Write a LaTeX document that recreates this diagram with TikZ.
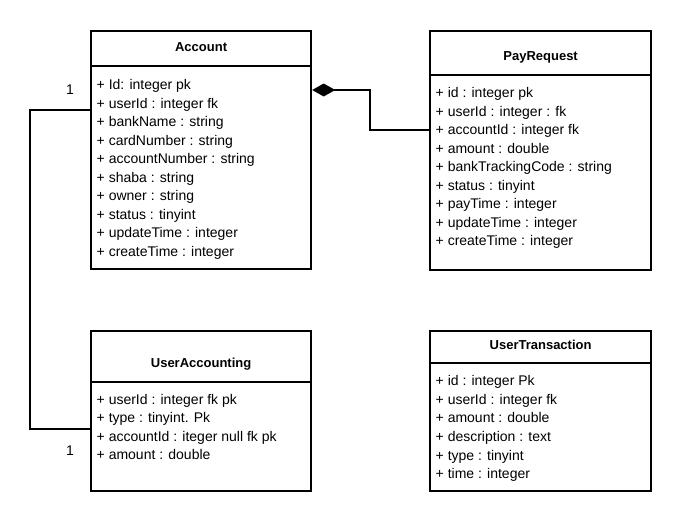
\documentclass[tikz,border=0pt]{standalone}
\usepackage{fontspec}
\setmainfont{Liberation Sans}
\usetikzlibrary{arrows.meta,calc}
\tikzset {>=Stealth,
  classbox/.style={draw,line width=2.2pt,anchor=north west,inner sep=0pt},
  ctitle/.style={font=\fontsize{13}{15}\selectfont\bfseries,anchor=base,inner sep=0pt},
  attr/.style={font=\fontsize{14}{17}\selectfont,anchor=base west,inner sep=0pt},
  mult/.style={font=\fontsize{14}{17}\selectfont,anchor=base,inner sep=0pt},
  link/.style={line width=2pt}}

\begin{document}
\begin{tikzpicture}[x=1pt,y=-1pt]
\useasboundingbox (0,0) rectangle (680,527);
% class boxes
\node[classbox,minimum width=220pt,minimum height=238pt] (acc) at (90,30) {};
\node[classbox,minimum width=221pt,minimum height=239pt] (pay) at (429,30) {};
\node[classbox,minimum width=220pt,minimum height=160pt] (uacc) at (90,330) {};
\node[classbox,minimum width=221pt,minimum height=160pt] (utr) at (429,330) {};
\draw[line width=2.2pt] (acc.west |- 0,66) -- (acc.east |- 0,66);
\draw[line width=2.2pt] (pay.west |- 0,75) -- (pay.east |- 0,75);
\draw[line width=2.2pt] (uacc.west |- 0,382) -- (uacc.east |- 0,382);
\draw[line width=2.2pt] (utr.west |- 0,363) -- (utr.east |- 0,363);
\node[ctitle] (acc-t) at (acc.north |- 0,52) {Account};
\node[ctitle] (pay-t) at (pay.north |- 0,61) {PayRequest};
\node[ctitle] (uacc-t) at (uacc.north |- 0,367) {UserAccounting};
\node[ctitle] (utr-t) at (utr.north |- 0,349) {UserTransaction};
% attributes
\foreach \a [count=\i] in {+ Id: integer pk, + userId : integer fk, + bankName : string,
  + cardNumber : string, + accountNumber : string, + shaba : string, + owner : string,
  + status : tinyint, + updateTime : integer, + createTime : integer}
  \node[attr] (acc-\i) at (96.5,71+\i*18.5) {\a};
\foreach \a [count=\i] in {+ id : integer pk, + userId : integer : fk, + accountId : integer fk,
  + amount : double, + bankTrackingCode : string, + status : tinyint, + payTime : integer,
  + updateTime : integer, + createTime : integer}
  \node[attr] (pay-\i) at (435.5,79.2+\i*18.5) {\a};
\foreach \a [count=\i] in {+ userId : integer fk pk, + type : tinyint. Pk,
  + accountId : iteger null fk pk, + amount : double}
  \node[attr] (uacc-\i) at (96.5,385.5+\i*18.6) {\a};
\foreach \a [count=\i] in {+ id : integer Pk, + userId : integer fk, + amount : double,
  + description : text, + type : tinyint, + time : integer}
  \node[attr] (utr-\i) at (435.5,367+\i*18.6) {\a};
% relations
\draw[link] (acc.west |- 0,110) -- (30,110) -- (30,429) -- (uacc.west |- 0,429);
\node[mult] (m1) at (70,94) {1};
\node[mult] (m2) at (70,455) {1};
\draw[link,-{Diamond[length=23pt,width=13pt]}] (pay.west |- 0,130) -- (370,130) -- (370,90) -- (acc.east |- 0,90);
\end{tikzpicture}
\end{document}
